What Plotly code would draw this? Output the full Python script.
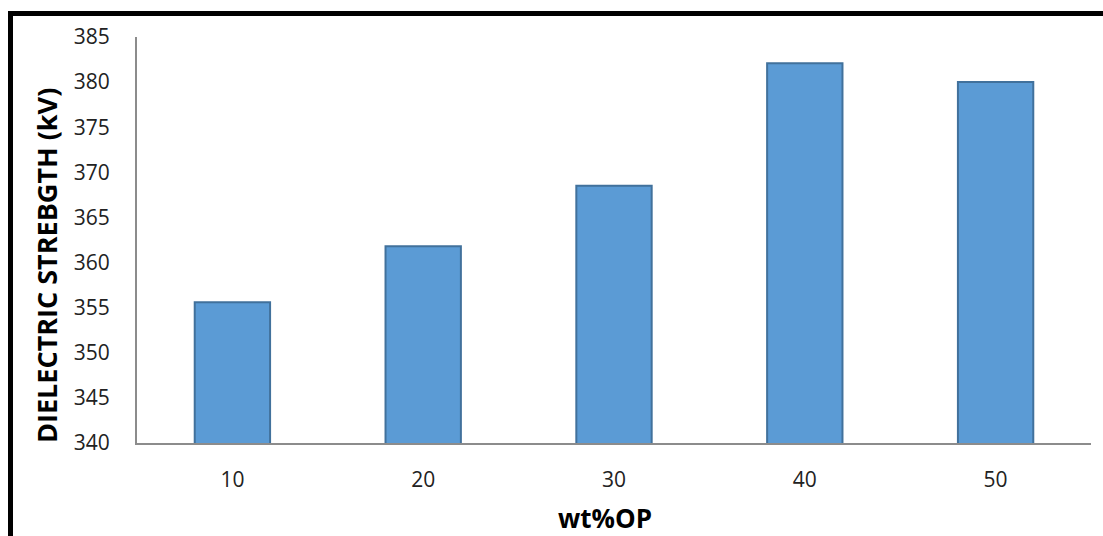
import plotly.graph_objects as go

# Dielectric strength by oil-palm content
wt_op = ["10", "20", "30", "40", "50"]
strength_kv = [355.6, 361.8, 368.5, 382.1, 380.0]
y_ticks = [340, 345, 350, 355, 360, 365, 370, 375, 380, 385]

W, H = 1103, 536
ML, MR, MT, MB = 137, 12, 37, 93
pw, ph = W - ML - MR, H - MT - MB


def px_x(px):
    return (px - ML) / pw


def px_y(py):
    return (H - MB - py) / ph


fig = go.Figure(
    go.Bar(
        x=wt_op,
        y=strength_kv,
        width=0.395,
        marker=dict(color="#5B9BD5", line=dict(color="#41719C", width=2)),
    )
)

tick_font = dict(family="Open Sans", size=21, color="#222222")

fig.update_layout(
    width=W,
    height=H,
    margin=dict(l=ML, r=MR, t=MT, b=MB),
    paper_bgcolor="white",
    plot_bgcolor="white",
    showlegend=False,
    xaxis=dict(
        showline=True,
        linecolor="#8C8C8C",
        linewidth=2,
        ticks="",
        tickfont=tick_font,
        showgrid=False,
        ticklabelstandoff=17,
    ),
    yaxis=dict(
        range=[340, 385],
        tickvals=y_ticks,
        showline=True,
        linecolor="#8C8C8C",
        linewidth=2,
        ticks="",
        tickfont=tick_font,
        showgrid=False,
        zeroline=False,
        ticklabelstandoff=21,
    ),
    annotations=[
        dict(
            text="<b>DIELECTRIC STREBGTH (kV)</b>",
            xref="paper", yref="paper",
            x=px_x(46), y=px_y(266),
            xanchor="center", yanchor="middle",
            textangle=-90, showarrow=False,
            font=dict(family="Open Sans", size=27, color="black"),
        ),
        dict(
            text="<b>wt%OP</b>",
            xref="paper", yref="paper",
            x=px_x(605), y=px_y(518),
            xanchor="center", yanchor="middle",
            showarrow=False,
            font=dict(family="Open Sans", size=26, color="black"),
        ),
    ],
    shapes=[
        # frame: top and left edges
        dict(type="line", xref="paper", yref="paper",
             x0=px_x(8), x1=px_x(W + 5), y0=px_y(13.5), y1=px_y(13.5),
             line=dict(color="black", width=5)),
        dict(type="line", xref="paper", yref="paper",
             x0=px_x(10.5), x1=px_x(10.5), y0=px_y(11), y1=px_y(H + 5),
             line=dict(color="black", width=5)),
    ],
)

fig.write_html("out.html")
